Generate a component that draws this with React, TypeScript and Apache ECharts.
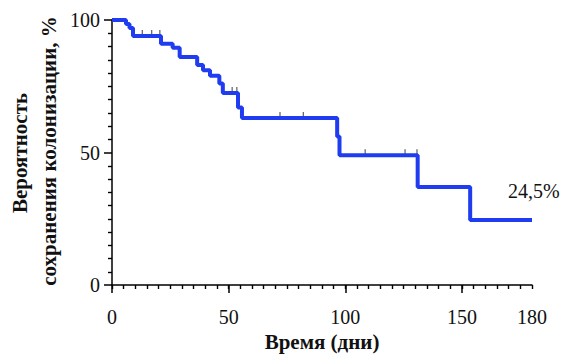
import React, { useEffect, useRef } from "react";
import * as echarts from "echarts";

const times = [0, 6, 7.5, 9, 21, 26, 29, 36.5, 39, 42, 46, 47.5, 54, 55.7, 96.5, 97.5, 131, 153.5, 180];
const survival = [100, 98.5, 97, 94, 91, 89.5, 86, 83, 81, 79, 76, 72.5, 67, 63, 56, 49, 37, 24.5, 24.5];
const censorTimes = [13, 17, 20.5, 51.5, 53.5, 72, 82, 108.5, 125.6, 130.7];
const censorValues = [94, 94, 94, 72.5, 72.5, 63, 63, 49, 49, 49];
const xLabels = [0, 50, 100, 150, 180];
const xMajorTicks = [0, 50, 100, 150];
const finalLabel = "24,5%";
const yName1 = "Вероятность";
const yName2 = "сохранения колонизации, %";
const xName = "Время (дни)";

const FONT = "Liberation Serif";

export default function App() {
  const ref = useRef<HTMLDivElement>(null);
  useEffect(() => {
    if (!ref.current) return;
    const chart = echarts.init(ref.current, null, { renderer: "svg" });
    const lineData = times.map((t, i) => [t, survival[i]]);
    const censorData = censorTimes.map((t, i) => [t, censorValues[i]]);
    const top = 20;
    const bottom = 73;
    const plotH = 358 - top - bottom;
    chart.setOption({
      animation: false,
      backgroundColor: "#ffffff",
      grid: { left: 112, right: 36, top, bottom },
      xAxis: [
        {
          type: "value",
          min: 0,
          max: 180,
          interval: 5,
          position: "bottom",
          axisLine: { show: true, onZero: false, lineStyle: { color: "#000", width: 1.5 } },
          axisTick: { show: true, length: 4, lineStyle: { color: "#000", width: 1.4 } },
          axisLabel: {
            show: true,
            interval: 0,
            hideOverlap: false,
            formatter: (v: number) => (xLabels.indexOf(v) >= 0 ? String(v) : ""),
            fontFamily: FONT,
            fontSize: 20,
            color: "#111",
            margin: 22,
          },
          splitLine: { show: false },
          name: xName,
          nameLocation: "middle",
          nameGap: 41,
          nameTextStyle: { fontFamily: FONT, fontSize: 21, fontWeight: "bold", color: "#111" },
        },
        {
          type: "value",
          min: 0,
          max: 180,
          interval: 50,
          position: "top",
          offset: -plotH,
          axisLine: { show: false, onZero: false },
          axisTick: { show: true, inside: true, customValues: xMajorTicks, length: 8, lineStyle: { color: "#000", width: 1.5 } },
          axisLabel: { show: false },
          splitLine: { show: false },
        },
      ],
      yAxis: {
        type: "value",
        min: 0,
        max: 100,
        interval: 50,
        axisLine: { show: true, onZero: false, lineStyle: { color: "#000", width: 1.5 } },
        axisTick: { show: true, length: 8, lineStyle: { color: "#000", width: 1.5 } },
        minorTick: { show: true, splitNumber: 10, length: 4, lineStyle: { color: "#000", width: 1.4 } },
        axisLabel: { fontFamily: FONT, fontSize: 20, color: "#111", margin: 12 },
        splitLine: { show: false },
        minorSplitLine: { show: false },
      },
      graphic: [
        {
          type: "text",
          x: 20,
          y: 153,
          rotation: Math.PI / 2,
          style: {
            text: yName1,
            fontFamily: FONT,
            fontSize: 21,
            fontWeight: "bold",
            fill: "#111",
            align: "center",
            verticalAlign: "middle",
          },
        },
        {
          type: "text",
          x: 49,
          y: 151,
          rotation: Math.PI / 2,
          style: {
            text: yName2,
            fontFamily: FONT,
            fontSize: 21,
            fontWeight: "bold",
            fill: "#111",
            align: "center",
            verticalAlign: "middle",
          },
        },
      ],
      series: [
        {
          type: "scatter",
          data: censorData,
          symbol: "rect",
          symbolSize: [1.3, 5],
          symbolOffset: [0, -3.5],
          itemStyle: { color: "#444" },
          z: 1,
          silent: true,
        },
        {
          type: "line",
          data: lineData,
          step: "end",
          showSymbol: false,
          symbol: "none",
          lineStyle: { color: "#1f3cf0", width: 4 },
          endLabel: {
            show: true,
            formatter: finalLabel,
            distance: 5,
            offset: [-29, -29],
            fontFamily: FONT,
            fontSize: 20,
            color: "#111",
          },
          z: 2,
        },
      ],
    });
    return () => chart.dispose();
  }, []);
  return <div ref={ref} style={{ width: 568, height: 358, position: "fixed", left: 0, top: 0 }} />;
}
